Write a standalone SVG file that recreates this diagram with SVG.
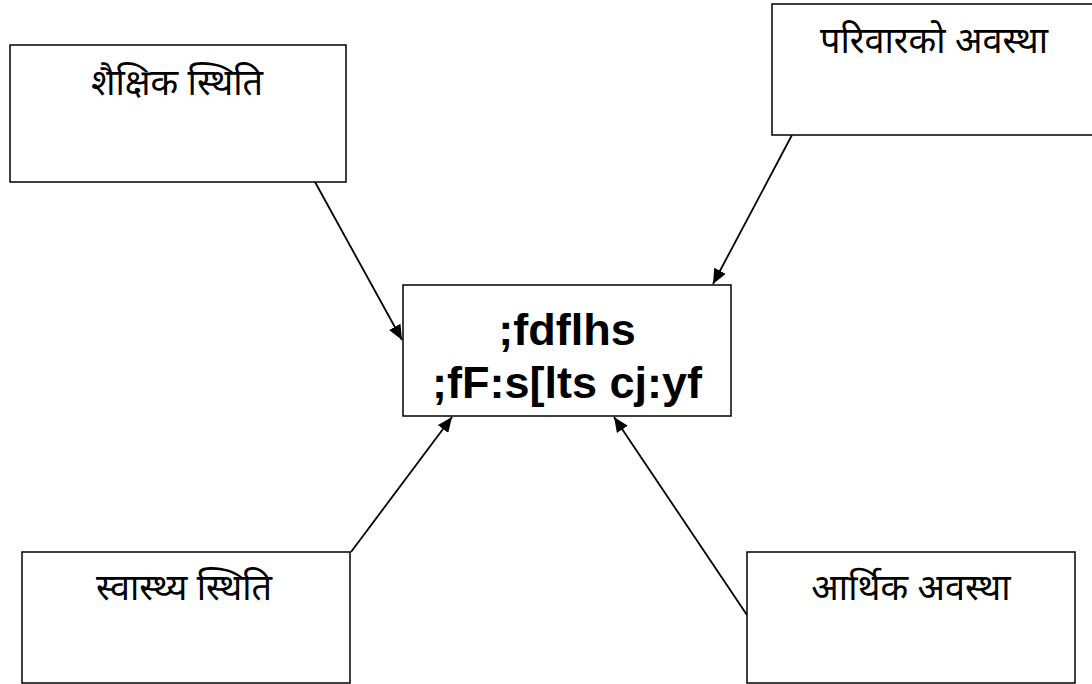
<svg xmlns="http://www.w3.org/2000/svg" width="1092" height="684" viewBox="0 0 1092 684">
<defs>
<marker id="ah" viewBox="0 0 15 13" refX="15" refY="6.5" markerWidth="15" markerHeight="13" markerUnits="userSpaceOnUse" orient="auto">
<path d="M0,0 L15,6.5 L0,13 z" fill="#000"/>
</marker>
<style>
.box{fill:#fff;stroke:#000;stroke-width:1.5}
.dev{font-family:"Noto Sans Devanagari","Lohit Devanagari","Noto Sans","FreeSerif",sans-serif;font-size:36px;font-weight:normal;fill:#000;text-anchor:middle}
.main{font-family:"Liberation Sans",Arial,sans-serif;font-weight:bold;font-size:45px;fill:#000;text-anchor:middle}
.conn{stroke:#000;stroke-width:1.8;fill:none;marker-end:url(#ah)}
</style>
</defs>
<rect width="1092" height="684" fill="#fff"/>
<g id="connectors">
<line class="conn" x1="315" y1="182" x2="402" y2="340"/>
<line class="conn" x1="792" y1="135" x2="713" y2="284"/>
<line class="conn" x1="351" y1="552" x2="452" y2="417"/>
<line class="conn" x1="747" y1="615" x2="614" y2="417"/>
</g>
<g id="n-shaikshik">
<rect class="box" x="10" y="45" width="336" height="137"/>
<text class="dev" x="177" y="95">शैक्षिक स्थिति</text>
</g>
<g id="n-pariwar">
<rect class="box" x="772" y="4" width="330" height="131"/>
<text class="dev" x="934" y="53">परिवारको अवस्था</text>
</g>
<g id="n-center">
<rect class="box" x="403" y="285" width="328" height="131"/>
<text class="main" x="567" y="345">;fdflhs</text>
<text class="main" x="567" y="398">;fF:s[lts cj:yf</text>
</g>
<g id="n-swasthya">
<rect class="box" x="22" y="552" width="328" height="131"/>
<text class="dev" x="184" y="600">स्वास्थ्य स्थिति</text>
</g>
<g id="n-arthik">
<rect class="box" x="747" y="552" width="328" height="131"/>
<text class="dev" x="911" y="600">आर्थिक अवस्था</text>
</g>
</svg>
